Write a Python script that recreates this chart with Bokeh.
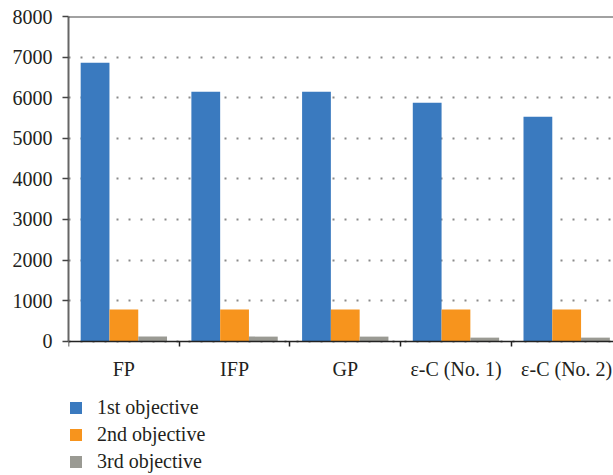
from bokeh.plotting import figure
from bokeh.models import (ColumnDataSource, Range1d, FixedTicker,
                          CustomJSTickFormatter, Span, Legend, LegendItem)
from bokeh.transform import dodge
from bokeh.embed import file_html
from bokeh.resources import INLINE

# Objective values for each solution method
methods = ["FP", "IFP", "GP", "ε-C (No. 1)", "ε-C (No. 2)"]
first_objective = [6860, 6146, 6146, 5876, 5530]
second_objective = [780, 780, 780, 780, 780]
third_objective = [115, 115, 115, 90, 90]
series_names = ["1st objective", "2nd objective", "3rd objective"]
y_ticks = [0, 1000, 2000, 3000, 4000, 5000, 6000, 7000, 8000]

colors = ["#3A7ABF", "#F7941D", "#9A9A93"]
FONT = "Liberation Serif"

# group centres sit half-way between the category boundaries
centers = [i + 0.5 for i in range(len(methods))]
source = ColumnDataSource(dict(x=centers, first=first_objective,
                               second=second_objective, third=third_objective))

# the plot frame runs to the bottom edge so the legend can sit under the axis;
# the value axis only spans 0..8000
p = figure(width=613, height=475, output_backend="svg", toolbar_location=None,
           x_range=Range1d(0, 4.923), y_range=Range1d(-3306, 8000),
           min_border_left=68, min_border_right=0, min_border_top=16,
           min_border_bottom=0)
p.outline_line_color = None
p.background_fill_color = "white"
p.border_fill_color = "white"

bar_w = 0.26
r1 = p.vbar(x=dodge("x", -bar_w, range=p.x_range), top="first", width=bar_w,
            source=source, fill_color=colors[0], line_color=None)
r2 = p.vbar(x=dodge("x", 0, range=p.x_range), top="second", width=bar_w,
            source=source, fill_color=colors[1], line_color=None)
r3 = p.vbar(x=dodge("x", bar_w, range=p.x_range), top="third", width=bar_w,
            source=source, fill_color=colors[2], line_color=None)

# x axis pinned at zero: labels at group centres, short ticks at group boundaries
xa = p.xaxis[0]
xa.fixed_location = 0
xa.ticker = FixedTicker(ticks=centers, minor_ticks=list(range(len(methods) + 1)))
xa.formatter = CustomJSTickFormatter(args=dict(labels=methods),
                                     code="return labels[Math.floor(tick)];")
xa.major_tick_line_color = None
xa.major_tick_out = 0
xa.major_tick_in = 0
xa.minor_tick_out = 5
xa.minor_tick_in = 0
xa.minor_tick_line_color = "#222222"
xa.minor_tick_line_width = 1.5
xa.axis_line_color = "#222222"
xa.axis_line_width = 1.5
xa.major_label_standoff = 12
xa.major_label_text_font = FONT
xa.major_label_text_font_size = "20px"
xa.major_label_text_color = "#231f20"

# y axis
ya = p.yaxis[0]
ya.bounds = (0, 8000)
ya.ticker = FixedTicker(ticks=y_ticks)
ya.minor_tick_line_color = None
ya.major_tick_out = 6
ya.major_tick_in = 0
ya.major_tick_line_color = "#444444"
ya.major_tick_line_width = 1.5
ya.axis_line_color = "#666666"
ya.axis_line_width = 2
ya.major_label_standoff = 10
ya.major_label_text_font = FONT
ya.major_label_text_font_size = "20px"
ya.major_label_text_color = "#231f20"

p.xgrid.grid_line_color = None
p.ygrid.grid_line_color = "#8a8a8a"
p.ygrid.grid_line_width = 2
p.ygrid.grid_line_dash = "2 10"

# solid rule along the top of the value area
p.add_layout(Span(location=8000, dimension="width", line_color="#444444", line_width=2))

legend = Legend(items=[LegendItem(label=series_names[0], renderers=[r1]),
                       LegendItem(label=series_names[1], renderers=[r2]),
                       LegendItem(label=series_names[2], renderers=[r3])],
                location=(0, 0), orientation="vertical",
                glyph_width=15, glyph_height=15, label_standoff=14,
                label_height=27, spacing=0, padding=0, margin=0,
                border_line_color=None, background_fill_alpha=0,
                label_text_font=FONT, label_text_font_size="20px",
                label_text_color="#231f20")
p.add_layout(legend)

open("out.html", "w").write(file_html(p, INLINE))
